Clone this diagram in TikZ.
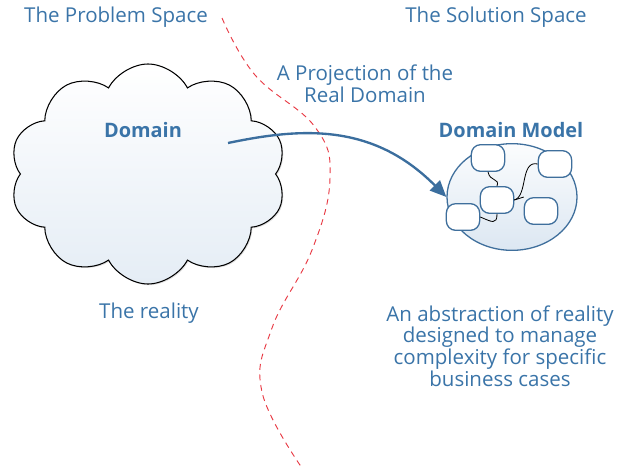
\documentclass[tikz,border=0pt]{standalone}
\usepackage{fontspec}
\setmainfont{Open Sans}
\usetikzlibrary{shapes.symbols,shapes.geometric,arrows.meta,shadows}

\definecolor{txtblue}{HTML}{3A74A8}
\definecolor{arrblue}{HTML}{3B6E9E}
\definecolor{edgeblue}{HTML}{3F6F9C}
\definecolor{fillblue}{HTML}{DCE7F2}
\definecolor{linered}{HTML}{E83A44}

\tikzset{
  lbl/.style={draw=none, text=txtblue, align=center, font=\fontsize{17.5}{16}\selectfont},
  title/.style={lbl, font=\fontsize{17}{16}\selectfont\bfseries},
  item/.style={draw=edgeblue, line width=1.1pt, fill=white, rectangle, rounded corners=2.8mm,
    minimum width=1cm, minimum height=0.8cm, inner sep=0pt},
  link/.style={black, line width=0.7pt}
}

\begin{document}
\begin{tikzpicture}[x=0.03cm, y=-0.03cm]
\useasboundingbox (0,0) rectangle (627,475);

% the two spaces
\node [lbl] (problem) at (116,17) {The Problem Space};
\node [lbl] (solution) at (496,17) {The Solution Space};

% dividing line
\draw[linered, dashed, dash pattern=on 5pt off 4pt, line width=0.8pt]
  plot[smooth, tension=0.7] coordinates {(222,18) (255,75) (315,127) (330,178) (312,250) (272,328) (262,392) (302,468)};

% reality
\node [cloud, cloud puffs=10, cloud puff arc=125, draw=black, line width=0.9pt,
  top color=white, bottom color=fillblue!75, drop shadow={opacity=0.25, shadow xshift=1pt, shadow yshift=-1pt},
  minimum width=8.3cm, minimum height=6.6cm] (cloud) at (148,174) {};
\node [title] (domain) at (143,130) {Domain};
\node [lbl] (reality) at (149,313) {The reality};

% model
\node [title] (model) at (511,130) {Domain Model};
\node [ellipse, draw=edgeblue, line width=1.1pt, top color=white!90!fillblue, bottom color=fillblue,
  minimum width=3.9cm, minimum height=3.2cm] (sphere) at (512,197) {};
\node [item] (m1) at (488,158) {};
\node [item] (m2) at (555,164) {};
\node [item] (m3) at (497,200) {};
\node [item] (m4) at (541,211) {};
\node [item] (m5) at (463,217) {};
\draw[link] (m1.south) .. controls (490,182) and (500,178) .. (m3.north);
\draw[link] (m3.east) .. controls (528,196) and (520,160) .. (m2.west);
\draw[link] (m3.east) -- (m4.north west);
\draw[link] (m3.south) .. controls (497,225) and (492,222) .. (m5.east);

\coordinate (start) at (228,143);
\draw[arrblue, line width=2pt, -{Triangle[length=14pt, width=12pt]}]
  (start) .. controls (300,128) and (372,122) .. (sphere.west); % projection

\node [lbl] (projection) at (365,84) {A Projection of the\\Real Domain};
\node [lbl] (abstraction) at (500,346) {An abstraction of reality\\designed to manage\\complexity for specific\\business cases};

\end{tikzpicture}
\end{document}
